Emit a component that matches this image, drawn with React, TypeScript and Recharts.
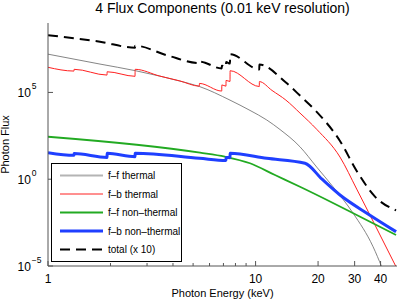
import React from 'react';
import { LineChart, Line, XAxis, YAxis } from 'recharts';

const FONT = '"Liberation Sans", Arial, Helvetica, sans-serif';

// Photon energies (keV) and fluxes
const ffThermalE = [1, 1.78, 2.63, 3.46, 4.32, 5.36, 7.53, 9.4, 11.31, 13.11, 16.36, 19.7, 23.59, 29.5, 36.8, 40.5];
const ffThermalF = [1.6e7, 4.3e6, 1.8e6, 8.7e5, 4.5e5, 2.2e5, 3.6e4, 9.2e3, 2.6e3, 7.3e2, 74, 5.0, 0.37, 0.011, 1.3e-4, 9e-6];

const fbThermalE = [1, 1.334, 1.336, 1.925, 1.927, 2.626, 2.629, 3.46, 4.32, 5.36, 5.365, 6.87, 6.877, 7.2, 7.207, 7.53, 7.538, 10.42, 10.43, 12.0, 14.0, 16.36, 19.7, 25.5, 30.7, 37.6, 47.5];
const fbThermalF = [2.8e6, 1.7e6, 2.15e6, 1.0e6, 1.55e6, 8.5e5, 2.15e6, 8.7e5, 4.6e5, 2.3e5, 3.3e5, 1.2e5, 2.7e5, 2.3e5, 4.9e5, 4.3e5, 1.78e6, 2.2e5, 4.2e5, 1.3e5, 3.6e4, 6.5e3, 7.5e2, 19, 0.27, 2.3e-3, 9e-6];

const ffNonThermalE = [1, 5.4, 7.1, 9.4, 12.4, 16.36, 23.6, 30.7, 47.5];
const ffNonThermalF = [280, 34, 20, 8.3, 1.74, 0.37, 0.043, 8.7e-3, 6.1e-4];

const fbNonThermalE = [1, 1.334, 1.336, 1.925, 1.927, 2.626, 2.629, 5.36, 7.2, 7.207, 7.53, 7.538, 11.31, 17.3, 20.9, 25.5, 34.8, 47.5];
const fbNonThermalF = [34, 24, 30, 18, 31, 20, 31, 16, 12, 18, 17.5, 31, 16, 8.3, 1.0, 0.123, 0.01, 9.5e-4];

const totalE = [1, 1.78, 2.626, 2.629, 3.73, 5.36, 5.365, 6.87, 6.877, 7.2, 7.207, 7.53, 7.538, 10.42, 10.43, 14.0, 16.36, 19.7, 25.5, 30.7, 37.6, 47.5];
const totalF = [2.0e8, 8.3e7, 3.8e7, 4.9e7, 1.4e7, 4.9e6, 6.0e6, 2.4e6, 3.5e6, 2.9e6, 5.6e6, 4.6e6, 1.6e7, 2.1e6, 4.0e6, 3.7e5, 6.6e4, 7.6e3, 1.6e2, 3.0, 0.10, 0.016];

const xTicks = [1, 2, 3, 4, 5, 6, 7, 8, 9, 10, 20, 30, 40];
const xTickLabels = [1, 10, 20, 30, 40];
const yTicks = [1e-5, 1, 1e5];
const yTickExponents = ['\u22125', '0', '5'];

const seriesNames = ['f\u2013f thermal', 'f\u2013b thermal', 'f\u2013f non\u2013thermal', 'f\u2013b non\u2013thermal', 'total (x 10)'];

const toPts = (es: number[], fs: number[]) => es.map((e, i) => ({ e, f: fs[i] }));

const AX = '#555';

const BottomTick = (props: any) => {
  const { x, y, payload } = props;
  const v = payload.value;
  const major = xTickLabels.includes(v);
  return (
    <g>
      <line x1={x} y1={y} x2={x} y2={y - (major ? 5 : 3)} stroke={AX} />
      {major && (
        <text x={x} y={y + 17} textAnchor="middle" fontSize={12} fontFamily={FONT} fill="#000">
          {v}
        </text>
      )}
    </g>
  );
};

const TopTick = (props: any) => {
  const { x, y, payload } = props;
  const major = xTickLabels.includes(payload.value);
  return <line x1={x} y1={y} x2={x} y2={y + (major ? 5 : 3)} stroke={AX} />;
};

const LeftTick = (props: any) => {
  const { x, y, payload } = props;
  const idx = yTicks.indexOf(payload.value);
  return (
    <g>
      <line x1={x} y1={y} x2={x + 5} y2={y} stroke={AX} />
      <text x={x - 30.5} y={y + 4.5} textAnchor="start" fontSize={12} fontFamily={FONT} fill="#000">
        10
        <tspan dx={1} dy={-8} fontSize={8.5}>{yTickExponents[idx]}</tspan>
      </text>
    </g>
  );
};

const RightTick = (props: any) => {
  const { x, y } = props;
  return <line x1={x} y1={y} x2={x - 5} y2={y} stroke={AX} />;
};

const legendStyles = [
  { color: '#b4b4b4', width: 2, dash: undefined as string | undefined },
  { color: '#ff2020', width: 1, dash: undefined },
  { color: '#22aa22', width: 2, dash: undefined },
  { color: '#1f3fff', width: 3, dash: undefined },
  { color: '#000000', width: 2, dash: '10 6' },
];

export default function App() {
  return (
    <div style={{ position: 'absolute', left: 0, top: 0, width: 400, height: 302, background: '#fff', fontFamily: FONT }}>
      <LineChart width={400} height={302} margin={{ top: 23, right: 3, bottom: 0, left: 0 }}>
        <XAxis
          dataKey="e"
          type="number"
          scale="log"
          domain={[1, 48]}
          ticks={xTicks}
          interval={0}
          allowDataOverflow
          height={36}
          tick={BottomTick}
          tickLine={false}
          tickSize={0}
          tickMargin={0}
          axisLine={{ stroke: AX }}
          label={{ value: 'Photon Energy (keV)', position: 'insideBottom', offset: 5, fontSize: 11, fill: '#000', fontFamily: FONT }}
        />
        <XAxis
          xAxisId="top"
          orientation="top"
          dataKey="e"
          type="number"
          scale="log"
          domain={[1, 48]}
          ticks={xTicks}
          interval={0}
          allowDataOverflow
          height={0}
          tick={TopTick}
          tickLine={false}
          tickSize={0}
          tickMargin={0}
          axisLine={{ stroke: AX }}
        />
        <YAxis
          type="number"
          scale="log"
          domain={[1e-5, 1e9]}
          ticks={yTicks}
          interval={0}
          allowDataOverflow
          width={48}
          tick={LeftTick}
          tickLine={false}
          tickSize={0}
          tickMargin={0}
          axisLine={{ stroke: AX }}
          label={{
            content: () => (
              <text transform="translate(8.7,144.5) rotate(-90)" textAnchor="middle" fontSize={11} fontFamily={FONT} fill="#000">
                Photon Flux
              </text>
            ),
          }}
        />
        <YAxis
          yAxisId="right"
          orientation="right"
          type="number"
          scale="log"
          domain={[1e-5, 1e9]}
          ticks={yTicks}
          interval={0}
          allowDataOverflow
          width={0}
          tick={RightTick}
          tickLine={false}
          tickSize={0}
          tickMargin={0}
          axisLine={{ stroke: AX }}
        />
        <Line data={toPts(ffThermalE, ffThermalF)} dataKey="f" type="monotone" stroke="#666" strokeWidth={0.8} dot={false} isAnimationActive={false} name={seriesNames[0]} />
        <Line data={toPts(fbThermalE, fbThermalF)} dataKey="f" type="monotone" stroke="#ff2020" strokeWidth={1} dot={false} isAnimationActive={false} name={seriesNames[1]} />
        <Line data={toPts(ffNonThermalE, ffNonThermalF)} dataKey="f" type="monotone" stroke="#22aa22" strokeWidth={1.8} dot={false} isAnimationActive={false} name={seriesNames[2]} />
        <Line data={toPts(fbNonThermalE, fbNonThermalF)} dataKey="f" type="monotone" stroke="#1f3fff" strokeWidth={3} dot={false} isAnimationActive={false} name={seriesNames[3]} />
        <Line data={toPts(totalE, totalF)} dataKey="f" type="monotone" stroke="#000" strokeWidth={2} strokeDasharray="10 6" dot={false} isAnimationActive={false} name={seriesNames[4]} />
      </LineChart>
      <div style={{ position: 'absolute', left: 0, top: 0, width: 445, textAlign: 'center', fontSize: 14, lineHeight: '17px', color: '#000', whiteSpace: 'nowrap' }}>
        4 Flux Components (0.01 keV resolution)
      </div>
      <svg style={{ position: 'absolute', left: 51, top: 162.5 }} width={131} height={99}>
        <rect x={0.5} y={0.5} width={130} height={98} fill="#fff" stroke="#000" strokeWidth={1} />
        {seriesNames.map((name, i) => {
          const cy = 12.5 + i * 18.5;
          const st = legendStyles[i];
          return (
            <g key={name}>
              <line x1={9} y1={cy} x2={52} y2={cy} stroke={st.color} strokeWidth={st.width} strokeDasharray={st.dash} />
              <text x={57} y={cy + 3.5} fontSize={10} fontFamily={FONT} fill="#000">
                {name}
              </text>
            </g>
          );
        })}
      </svg>
    </div>
  );
}
